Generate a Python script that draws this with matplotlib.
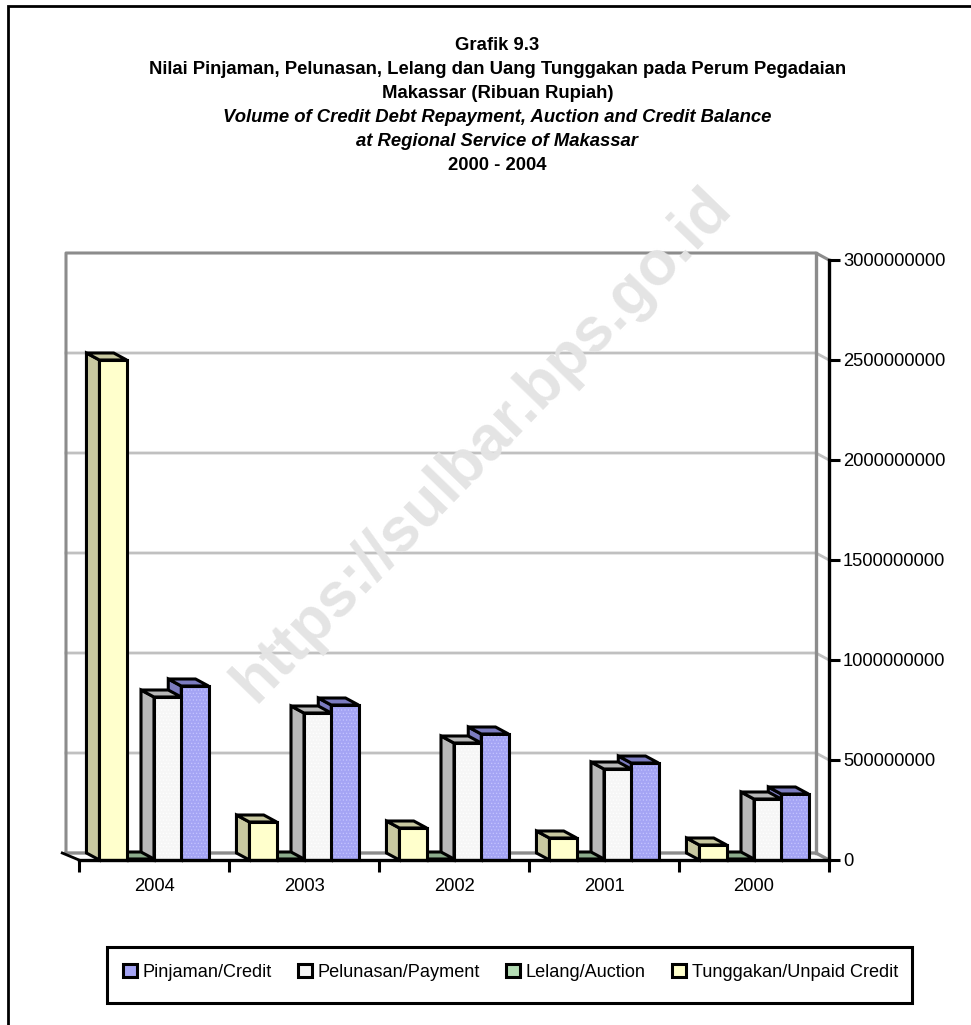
import matplotlib
matplotlib.use("Agg")
import matplotlib.pyplot as plt
from matplotlib.lines import Line2D
from matplotlib.patches import Patch, Rectangle
import numpy as np

W, H = 971, 1025
plt.rcParams['font.family'] = ['Liberation Sans', 'DejaVu Sans']
plt.rcParams['hatch.linewidth'] = 0.5

years = ['2004', '2003', '2002', '2001', '2000']
pinjaman = [870e6, 775e6, 630e6, 485e6, 330e6]
pelunasan = [815e6, 735e6, 585e6, 455e6, 305e6]
lelang = [5e6, 5e6, 5e6, 5e6, 5e6]
tunggakan = [2500e6, 190e6, 160e6, 110e6, 75e6]
yticks = [0, 500000000, 1000000000, 1500000000, 2000000000, 2500000000, 3000000000]
labels = ['Pinjaman/Credit', 'Pelunasan/Payment', 'Lelang/Auction', 'Tunggakan/Unpaid Credit']
title_lines = [
    ('Grafik 9.3', 'normal', 45),
    ('Nilai Pinjaman, Pelunasan, Lelang dan Uang Tunggakan pada Perum Pegadaian', 'normal', 69),
    ('Makassar (Ribuan Rupiah)', 'normal', 93),
    ('Volume of Credit Debt Repayment, Auction and Credit Balance', 'italic', 117),
    ('at Regional Service of Makassar', 'italic', 141),
    ('2000 - 2004', 'normal', 165),
]

fig = plt.figure(figsize=(W / 100, H / 100), dpi=100, facecolor='white')
ax = fig.add_axes([79 / W, 1 - 860 / H, 750 / W, 600 / H])
ax.set_xlim(0, 5)
ax.set_ylim(0, 3e9)
ax.patch.set_alpha(0)

DX, DY = 13 / 150, 35e6   # depth of the 3-D box in data units
BW, GAP = 1 / 5.5, 0.75 / 5.5
EDGE = 2.2

# outer frame: left and top edges only, the rest is cut off by the picture
fig.add_artist(Line2D([8 / W, 8 / W, 1], [0, 1 - 5.5 / H, 1 - 5.5 / H],
                      color='black', lw=2, solid_joinstyle='miter'))

# watermark
fig.text(482 / W, 1 - 445 / H, 'https://sulbar.bps.go.id', rotation=46, rotation_mode='anchor',
         ha='center', va='center', fontsize=45, fontweight='bold', color='#e4e4e4', zorder=0)

# back wall, side wall, floor and gridlines
for v in yticks[1:-1]:
    ax.plot([-DX, 5 - DX, 5], [v + DY, v + DY, v], color='#c0c0c0', lw=2, clip_on=False, zorder=2,
            solid_joinstyle='miter')
ax.plot([-DX, -DX, 5 - DX, 5], [DY, 3e9 + DY, 3e9 + DY, 3e9], color='#8c8c8c', lw=2.2, clip_on=False, zorder=2)
ax.plot([5 - DX, 5 - DX], [DY, 3e9 + DY], color='#8c8c8c', lw=2.4, clip_on=False, zorder=2)
ax.plot([-DX, 5 - DX, 5], [DY, DY, 0], color='#8c8c8c', lw=2.4, clip_on=False, zorder=2)
ax.plot([-DX - 0.025, 0], [DY, 0], color='black', lw=2, clip_on=False, zorder=2)

series = [
    (pinjaman, 3, '#a4a4f4', '#c4c4ff', '#7c7cc0', '#7c7cc0'),
    (pelunasan, 2, '#f6f6f6', '#ffffff', '#b8b8b8', '#b8b8b8'),
    (lelang, 1, '#b4dcb4', '#ccffcc', '#8cac8c', '#8cac8c'),
    (tunggakan, 0, '#ffffcc', '#ffffcc', '#c8c8a0', '#c8c8a0'),
]
z = 3
for vals, slot, face, hatchc, side, top in series:
    xs = np.arange(5) + GAP + slot * BW
    for x, v in zip(xs, vals):
        ax.fill([x, x - DX, x - DX, x], [0, DY, v + DY, v], facecolor=side, edgecolor='black',
                lw=EDGE, clip_on=False, zorder=z, joinstyle='miter')
        ax.fill([x, x - DX, x + BW - DX, x + BW], [v, v + DY, v + DY, v], facecolor=top,
                edgecolor='black', lw=EDGE, clip_on=False, zorder=z, joinstyle='miter')
    ax.bar(xs, vals, BW, align='edge', color=face, edgecolor=hatchc, hatch='.....', lw=0,
           zorder=z + 0.1, clip_on=False)
    ax.bar(xs, vals, BW, align='edge', fill=False, edgecolor='black', lw=EDGE,
           zorder=z + 0.2, clip_on=False)
    z += 1

# axes
for s in ('top', 'left'):
    ax.spines[s].set_visible(False)
for s in ('bottom', 'right'):
    ax.spines[s].set_linewidth(2.4)
    ax.spines[s].set_zorder(10)
ax.yaxis.tick_right()
ax.set_yticks(yticks)
ax.set_yticklabels([str(v) for v in yticks], fontsize=13.2)
ax.tick_params(axis='y', length=8, width=2.2, pad=2)
ax.set_xticks(np.arange(6))
ax.set_xticklabels([])
ax.set_xticks(np.arange(5) + 0.5, labels=years, minor=True, fontsize=13.2)
ax.tick_params(axis='x', which='major', length=8.5, width=2.2)
ax.tick_params(axis='x', which='minor', length=0, pad=13)

# titles
for text, style, y in title_lines:
    fig.text(497.5 / W, 1 - y / H, text, ha='center', va='center', fontsize=13.35, fontweight='bold',
             fontstyle=style, color='black')

# legend
fig.add_artist(Rectangle((107 / W, 1 - 1003 / H), 805 / W, 56 / H, transform=fig.transFigure,
                         facecolor='white', edgecolor='black', lw=2.2))
handles = [Patch(facecolor=c, edgecolor='black', lw=2.2) for c in ('#a4a4f4', '#f6f6f6', '#b4dcb4', '#ffffcc')]
leg = fig.legend(handles, labels, ncol=4, loc='center', bbox_to_anchor=(510.5 / W, 1 - 972.5 / H),
                 fontsize=13.1, frameon=False,
                 handlelength=0.75, handleheight=0.75, handletextpad=0.33, columnspacing=1.43,
                 borderpad=0, borderaxespad=0)
leg.set_zorder(5)

fig.savefig('out.png', dpi=100, facecolor='white')
